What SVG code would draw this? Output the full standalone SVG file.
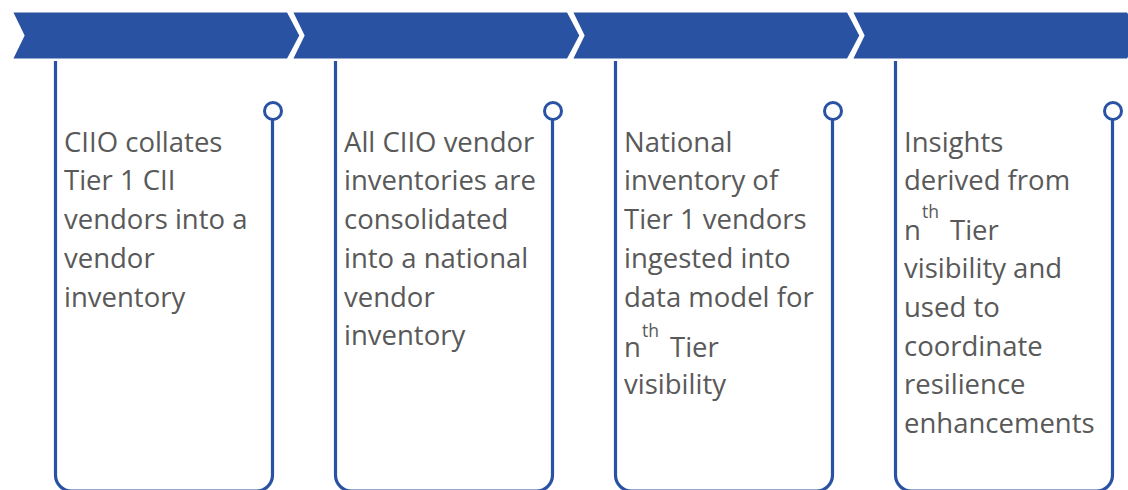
<svg xmlns="http://www.w3.org/2000/svg" width="1128" height="490" viewBox="0 0 1128 490">
<style>
.chev{fill:#2A52A3;stroke:#FFFFFF;stroke-width:3;stroke-linejoin:miter}
.box{fill:none;stroke:#2A52A3;stroke-width:3.2}
.pin{fill:#FFFFFF;stroke:#2A52A3;stroke-width:3}
.t{font-family:"Open Sans","Noto Sans",sans-serif;font-size:27.5px;fill:#595959}
.sup{font-size:17.5px}
</style>
<rect width="1128" height="490" fill="#FFFFFF"/>
<g id="banner">
<polygon class="chev" points="11,11 288,11 301,35.5 288,60 11,60 23,35.5"/>
<polygon class="chev" points="291,11 568,11 581,35.5 568,60 291,60 303,35.5"/>
<polygon class="chev" points="571,11 848,11 861,35.5 848,60 571,60 583,35.5"/>
<polygon class="chev" points="851,11 1128,11 1141,35.5 1128,60 851,60 863,35.5"/>
</g>
<g id="connectors">
<path class="box" d="M55.5,61 V475 A16,16 0 0 0 71.5,491 H256.5 A16,16 0 0 0 272.5,475 V119.5"/>
<path class="box" d="M335.5,61 V475 A16,16 0 0 0 351.5,491 H536.5 A16,16 0 0 0 552.5,475 V119.5"/>
<path class="box" d="M615.5,61 V475 A16,16 0 0 0 631.5,491 H816.5 A16,16 0 0 0 832.5,475 V119.5"/>
<path class="box" d="M895.5,61 V475 A16,16 0 0 0 911.5,491 H1096.5 A16,16 0 0 0 1112.5,475 V119.5"/>
</g>
<g id="node1">
<circle class="pin" cx="273" cy="111" r="8.5"/>
<text class="t"><tspan x="64" y="151.7">CIIO collates</tspan><tspan x="64" y="190.4">Tier 1 CII</tspan><tspan x="64" y="229.1">vendors into a</tspan><tspan x="64" y="267.8">vendor</tspan><tspan x="64" y="306.5">inventory</tspan></text>
</g>
<g id="node2">
<circle class="pin" cx="553" cy="111" r="8.5"/>
<text class="t"><tspan x="344" y="151.7">All CIIO vendor</tspan><tspan x="344" y="190.4">inventories are</tspan><tspan x="344" y="229.1">consolidated</tspan><tspan x="344" y="267.8">into a national</tspan><tspan x="344" y="306.5">vendor</tspan><tspan x="344" y="345.2">inventory</tspan></text>
</g>
<g id="node3">
<circle class="pin" cx="833" cy="111" r="8.5"/>
<text class="t"><tspan x="624" y="151.7">National</tspan><tspan x="624" y="190.4">inventory of</tspan><tspan x="624" y="229.1">Tier 1 vendors</tspan><tspan x="624" y="267.8">ingested into</tspan><tspan x="624" y="306.5">data model for</tspan><tspan x="624" y="356.7">n</tspan><tspan class="sup" x="642" y="337.3">th</tspan><tspan x="670" y="356.7">Tier</tspan><tspan x="624" y="394.4">visibility</tspan></text>
</g>
<g id="node4">
<circle class="pin" cx="1113" cy="111" r="8.5"/>
<text class="t"><tspan x="904" y="151.7">Insights</tspan><tspan x="904" y="190.4">derived from</tspan><tspan x="904" y="240">n</tspan><tspan class="sup" x="922" y="218.3">th</tspan><tspan x="950" y="240">Tier</tspan><tspan x="904" y="278.3">visibility and</tspan><tspan x="904" y="317">used to</tspan><tspan x="904" y="355.7">coordinate</tspan><tspan x="904" y="394.4">resilience</tspan><tspan x="904" y="433">enhancements</tspan></text>
</g>
</svg>
